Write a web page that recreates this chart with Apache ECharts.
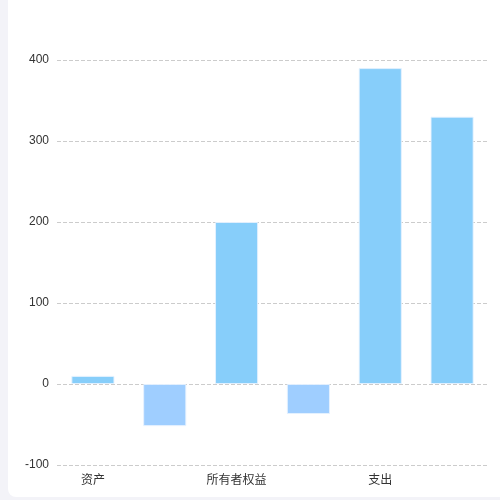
<!DOCTYPE html>
<html><head><meta charset="utf-8">
<script src="https://cdn.jsdelivr.net/npm/echarts@6/dist/echarts.min.js"></script>
<style>
html,body{margin:0;padding:0;background:#f3f3f8;width:500px;height:500px;overflow:hidden;}
#card{position:absolute;left:8px;top:-10px;width:520px;height:507px;background:#fff;border-radius:8px;}
#c{position:absolute;left:0;top:0;width:500px;height:500px;}
</style></head>
<body><div id="card"></div><div id="c"></div>
<script>
const categories = ['资产','负债','所有者权益','收入','支出','利润'];
const values = [10, -52, 200, -37, 390, 330];
const yTicks = { min: -100, max: 400, interval: 100 };
const posColor = '#87cefa';
const negColor = '#9fceff';

const chart = echarts.init(document.getElementById('c'));
chart.setOption({
  animation: false,
  grid: { left: 57, right: 12, top: 60, bottom: 35 },
  xAxis: {
    type: 'category',
    data: categories,
    axisLine: { show: false },
    axisTick: { show: false },
    axisLabel: { interval: 1, color: '#333', fontSize: 12, margin: 8, fontFamily: 'Noto Sans CJK SC' }
  },
  yAxis: {
    type: 'value',
    min: yTicks.min, max: yTicks.max, interval: yTicks.interval,
    axisLine: { show: false },
    axisTick: { show: false },
    axisLabel: { color: '#333', fontSize: 12, margin: 8 },
    splitLine: { lineStyle: { type: 'dashed', color: '#ccc' } }
  },
  series: [{
    type: 'bar',
    barWidth: '60%',
    data: values.map(v => ({
      value: v,
      itemStyle: { color: v >= 0 ? posColor : negColor, borderColor: 'rgba(230,242,255,0.9)', borderWidth: 1 }
    }))
  }]
});
</script></body></html>
